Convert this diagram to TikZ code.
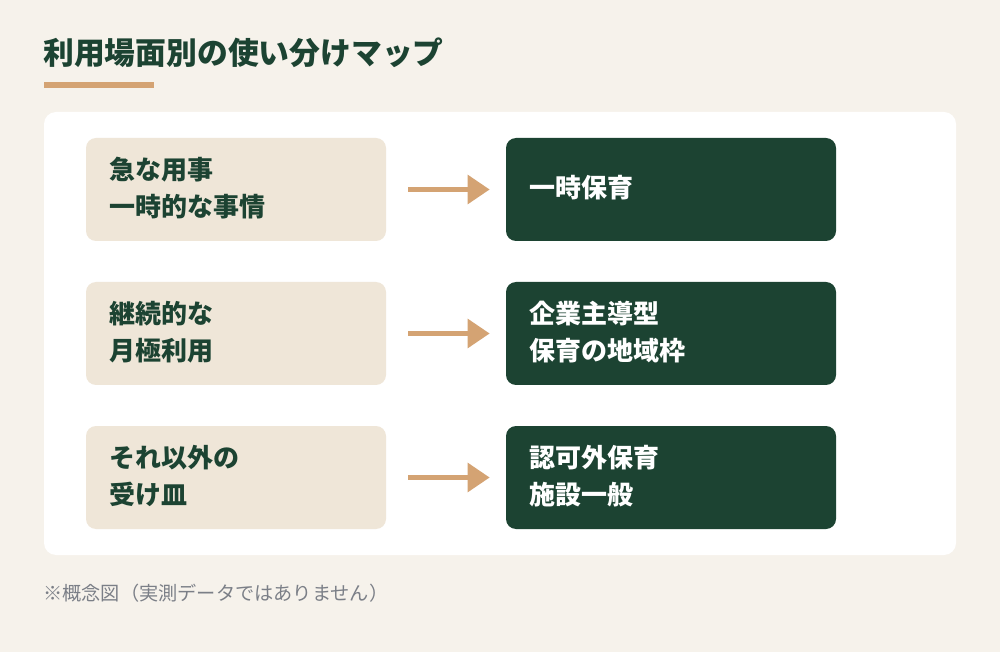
\documentclass[tikz,border=0pt]{standalone}
\usepackage{fontspec}
\setmainfont{Noto Sans CJK JP}
\usetikzlibrary{arrows.meta}
\definecolor{bgc}{HTML}{F6F2EB}
\definecolor{dgreen}{HTML}{1C4332}
\definecolor{beige}{HTML}{EFE6D8}
\definecolor{accent}{HTML}{D4A373}
\definecolor{note}{HTML}{7B7F87}
\tikzset{
  srcbox/.style={fill=beige, rounded corners=7.5pt, minimum width=225pt, minimum height=77.25pt, inner sep=0pt, draw=none},
  dstbox/.style={fill=dgreen, rounded corners=7.5pt, minimum width=247.5pt, minimum height=77.25pt, inner sep=0pt, draw=none},
  srctxt/.style={anchor=west, inner sep=0pt, align=left, text=dgreen, font=\fontsize{19.5}{27.5}\selectfont\bfseries},
  dsttxt/.style={anchor=west, inner sep=0pt, align=left, text=white, font=\fontsize{19.5}{27.5}\selectfont\bfseries},
  flow/.style={draw=accent, line width=4.2pt, -{Triangle[length=16.5pt,width=21pt]}, shorten <=16.5pt, shorten >=12pt}
}
\begin{document}
\begin{tikzpicture}[x=0.75pt,y=-0.75pt]
\useasboundingbox (0,0) rectangle (1000,652);
\fill[bgc] (0,0) rectangle (1000,652);
% title
\node[anchor=west, inner sep=0pt, text=dgreen, font=\fontsize{23.1}{27}\selectfont\bfseries] (title) at (43,53) {利用場面別の使い分けマップ};
\fill[accent] (44,82) rectangle (154,88);
% panel
\fill[white, rounded corners=9pt] (44,112) rectangle (956,555);
% rows
\foreach \i/\y/\a/\b in {1/189.5/{急な用事\\一時的な事情}/{一時保育},
                         2/333.5/{継続的な\\月極利用}/{企業主導型\\保育の地域枠},
                         3/477.5/{それ以外の\\受け皿}/{認可外保育\\施設一般}}{
  \node[srcbox] (s\i) at (236,\y) {};
  \node[dstbox] (d\i) at (671,\y) {};
  \node[srctxt] (st\i) at (109,\y-1.5) {\a};
  \node[dsttxt] (dt\i) at (529,\y-1.5) {\b};
  \draw[flow] (s\i.east) -- (d\i.west);
}
% footnote
\node[anchor=west, inner sep=0pt, text=note, font=\fontsize{14.4}{16}\selectfont] (foot) at (43,593) {※概念図（実測データではありません）};
\end{tikzpicture}
\end{document}
